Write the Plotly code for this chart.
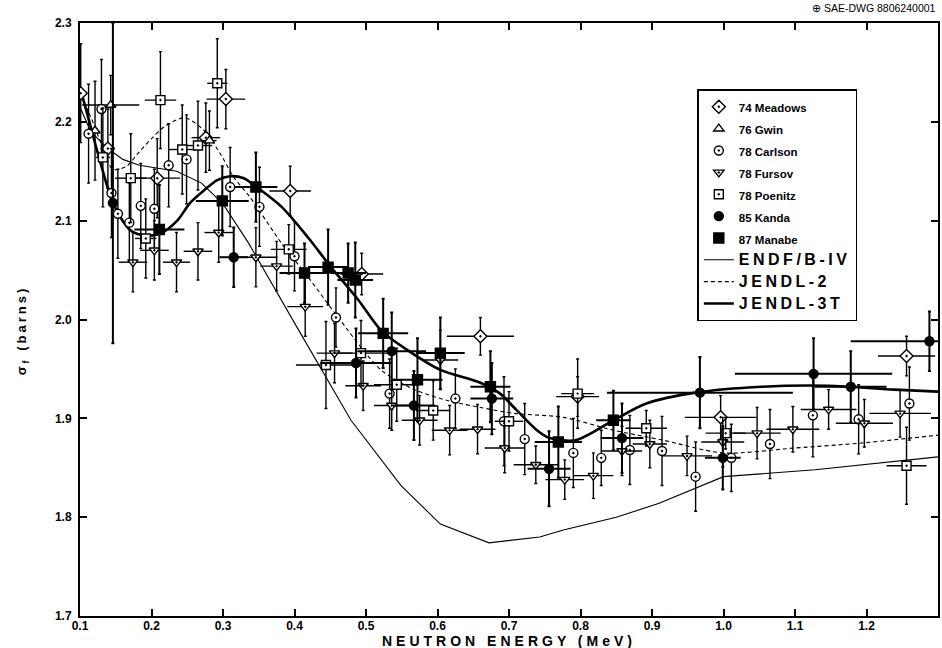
import plotly.graph_objects as go

# ---------------- data ----------------
x_ticks = [0.1, 0.2, 0.3, 0.4, 0.5, 0.6, 0.7, 0.8, 0.9, 1.0, 1.1, 1.2]
x_tick_labels = ["0.1", "0.2", "0.3", "0.4", "0.5", "0.6", "0.7", "0.8", "0.9", "1.0", "1.1", "1.2"]
y_ticks = [1.7, 1.8, 1.9, 2.0, 2.1, 2.2, 2.3]
y_tick_labels = ["1.7", "1.8", "1.9", "2.0", "2.1", "2.2", "2.3"]

endf_x = [0.100, 0.115, 0.139, 0.160, 0.183, 0.235, 0.270, 0.300, 0.336, 0.370, 0.406, 0.479,
          0.549, 0.604, 0.672, 0.743, 0.776, 0.850, 0.910, 1.000, 1.128, 1.300]
endf_y = [2.215, 2.190, 2.173, 2.162, 2.156, 2.150, 2.138, 2.117, 2.077, 2.034, 1.989, 1.898,
          1.832, 1.793, 1.774, 1.780, 1.787, 1.800, 1.814, 1.841, 1.848, 1.861]

jendl2_x = [0.100, 0.115, 0.128, 0.146, 0.165, 0.181, 0.200, 0.218, 0.246, 0.274, 0.296, 0.315,
            0.3375, 0.382, 0.419, 0.457, 0.521, 0.568, 0.614, 0.660, 0.707, 0.776, 0.846, 0.915,
            0.999, 1.100, 1.193, 1.300]
jendl2_y = [2.228, 2.205, 2.181, 2.152, 2.155, 2.168, 2.183, 2.195, 2.204, 2.191, 2.168, 2.144,
            2.124, 2.077, 2.043, 2.006, 1.949, 1.929, 1.918, 1.911, 1.905, 1.901, 1.888, 1.878,
            1.865, 1.870, 1.875, 1.883]

jendl3t_x = [0.100, 0.112, 0.125, 0.143, 0.157, 0.171, 0.190, 0.2125, 0.236, 0.254, 0.274, 0.292,
             0.310, 0.329, 0.347, 0.382, 0.419, 0.451, 0.489, 0.521, 0.558, 0.604, 0.660, 0.6875,
             0.711, 0.739, 0.757, 0.794, 0.846, 0.892, 0.961, 1.054, 1.146, 1.239, 1.300]
jendl3t_y = [2.235, 2.203, 2.168, 2.124, 2.103, 2.090, 2.085, 2.087, 2.100, 2.118, 2.131, 2.141,
             2.145, 2.143, 2.134, 2.114, 2.083, 2.053, 2.020, 1.989, 1.969, 1.949, 1.936, 1.925,
             1.908, 1.888, 1.880, 1.878, 1.898, 1.915, 1.926, 1.932, 1.933, 1.929, 1.927]

meadows_x = [0.101, 0.139, 0.208, 0.276, 0.304, 0.394, 0.494, 0.660, 0.796, 0.996, 1.256]
meadows_y = [2.229, 2.173, 2.143, 2.184, 2.223, 2.130, 2.046, 1.983, 1.922, 1.901, 1.963]
meadows_dy = [0.050, 0.040, 0.040, 0.035, 0.030, 0.025, 0.021, 0.019, 0.020, 0.022, 0.020]
meadows_dx = [0.004, 0.010, 0.032, 0.020, 0.027, 0.029, 0.030, 0.047, 0.030, 0.050, 0.040]

gwin_x = [0.121, 0.143, 0.281]
gwin_y = [2.191, 2.217, 2.181]
gwin_dy = [0.050, 0.030, 0.030]
gwin_dx = [0.004, 0.040, 0.010]

carlson_x = [0.112, 0.130, 0.144, 0.153, 0.169, 0.185, 0.204, 0.224, 0.249, 0.310, 0.351, 0.400,
             0.458, 0.533, 0.625, 0.693, 0.722, 0.790, 0.829, 0.869, 0.914, 0.961, 1.011, 1.065,
             1.125, 1.189, 1.260]
carlson_y = [2.188, 2.213, 2.128, 2.107, 2.098, 2.115, 2.112, 2.156, 2.162, 2.134, 2.114, 2.064,
             2.002, 1.925, 1.920, 1.897, 1.879, 1.865, 1.860, 1.868, 1.867, 1.841, 1.860, 1.874,
             1.903, 1.899, 1.915]
carlson_dy = [0.050, 0.050, 0.045, 0.045, 0.040, 0.043, 0.040, 0.042, 0.045, 0.040, 0.040, 0.035,
              0.030, 0.035, 0.030, 0.045, 0.036, 0.035, 0.028, 0.035, 0.035, 0.035, 0.034, 0.035,
              0.042, 0.035, 0.037]

fursov_x = [0.174, 0.204, 0.235, 0.265, 0.294, 0.346, 0.375, 0.415, 0.456, 0.496, 0.536, 0.575,
            0.604, 0.617, 0.656, 0.694, 0.7375, 0.778, 0.818, 0.858, 0.897, 0.949, 0.999, 1.047,
            1.097, 1.147, 1.197, 1.247]
fursov_y = [2.058, 2.070, 2.058, 2.069, 2.088, 2.063, 2.054, 2.013, 1.966, 1.933, 1.913, 1.898,
            1.959, 1.888, 1.889, 1.870, 1.853, 1.838, 1.842, 1.867, 1.874, 1.862, 1.876, 1.885,
            1.889, 1.909, 1.895, 1.905]
fursov_dy = [0.030, 0.030, 0.030, 0.029, 0.030, 0.030, 0.025, 0.030, 0.030, 0.025, 0.025, 0.025,
             0.030, 0.025, 0.025, 0.025, 0.019, 0.020, 0.023, 0.025, 0.024, 0.020, 0.025, 0.026,
             0.023, 0.020, 0.024, 0.024]
fursov_dx = [0.020, 0.020, 0.019, 0.020, 0.020, 0.030, 0.023, 0.025, 0.025, 0.025, 0.025, 0.025,
             0.025, 0.025, 0.025, 0.028, 0.031, 0.027, 0.028, 0.028, 0.024, 0.035, 0.030, 0.033,
             0.037, 0.039, 0.040, 0.043]

poenitz_x = [0.132, 0.171, 0.192, 0.2125, 0.243, 0.265, 0.292, 0.392, 0.444, 0.493, 0.543, 0.594,
             0.700, 0.796, 0.892, 1.003, 1.256]
poenitz_y = [2.164, 2.143, 2.082, 2.222, 2.172, 2.176, 2.239, 2.071, 1.954, 1.966, 1.934, 1.908,
             1.897, 1.925, 1.890, 1.885, 1.852]
poenitz_dy = [0.050, 0.045, 0.040, 0.049, 0.045, 0.045, 0.045, 0.025, 0.044, 0.033, 0.037, 0.030,
              0.030, 0.035, 0.018, 0.016, 0.039]
poenitz_dx = [0.010, 0.022, 0.015, 0.022, 0.020, 0.020, 0.014, 0.025, 0.042, 0.040, 0.032, 0.024,
              0.020, 0.023, 0.029, 0.028, 0.028]

kanda_x = [0.146, 0.315, 0.486, 0.536, 0.567, 0.676, 0.756, 0.858, 0.967, 0.999, 1.126, 1.178, 1.288]
kanda_y = [2.118, 2.063, 1.956, 1.968, 1.913, 1.920, 1.849, 1.880, 1.926, 1.860, 1.945, 1.932, 1.978]
kanda_dy_up = [0.182, 0.030, 0.035, 0.039, 0.035, 0.036, 0.038, 0.035, 0.036, 0.032, 0.036, 0.036, 0.030]
kanda_dy_down = [0.142, 0.030, 0.035, 0.039, 0.035, 0.036, 0.038, 0.035, 0.036, 0.032, 0.036, 0.036, 0.030]
kanda_dx = [0.000, 0.020, 0.050, 0.048, 0.030, 0.030, 0.030, 0.030, 0.130, 0.025, 0.110, 0.050, 0.110]

manabe_x = [0.211, 0.299, 0.346, 0.414, 0.447, 0.475, 0.485, 0.524, 0.572, 0.604, 0.674, 0.769, 0.846]
manabe_y = [2.091, 2.120, 2.134, 2.047, 2.053, 2.047, 2.040, 1.986, 1.939, 1.966, 1.932, 1.876, 1.898]
manabe_dy = [0.045, 0.035, 0.035, 0.030, 0.038, 0.030, 0.038, 0.035, 0.042, 0.036, 0.036, 0.036, 0.030]
manabe_dx = [0.035, 0.037, 0.030, 0.035, 0.028, 0.025, 0.025, 0.035, 0.035, 0.034, 0.028, 0.033, 0.024]

# ---------------- figure ----------------
FONT = "Liberation Sans"
fig = go.Figure()

def small(name):
    return '<span style="font-size:11.5px;font-weight:bold">' + name + '</span>'

def big(name):
    return '<span style="font-size:16px;font-weight:bold;letter-spacing:3.5px">' + name + '</span>'

# model curves
fig.add_trace(go.Scatter(x=endf_x, y=endf_y, mode="lines", name=big("ENDF/B-IV"),
                         line=dict(color="black", width=1.1), legendrank=8))
fig.add_trace(go.Scatter(x=jendl2_x, y=jendl2_y, mode="lines", name=big("JENDL-2"),
                         line=dict(color="black", width=1.1, dash="4px,3px", shape="spline", smoothing=0.8),
                         legendrank=9))
fig.add_trace(go.Scatter(x=jendl3t_x, y=jendl3t_y, mode="lines", name=big("JENDL-3T"),
                         line=dict(color="black", width=2.6, shape="spline", smoothing=0.8),
                         legendrank=10))

def pts(xs, ys, dy, dx, name, symbol, rank, color="white", size=9, dy_minus=None, thick=1.4):
    ey = dict(type="data", array=dy, color="black", thickness=thick, width=1.5, visible=True)
    if dy_minus is not None:
        ey["symmetric"] = False
        ey["arrayminus"] = dy_minus
    ex = None
    if dx is not None:
        ex = dict(type="data", array=dx, color="black", thickness=thick, width=0, visible=True)
    fig.add_trace(go.Scatter(
        x=xs, y=ys, mode="markers", name=small(name), legendrank=rank,
        marker=dict(symbol=symbol, size=size, color=color, line=dict(color="black", width=1.4)),
        error_y=ey, error_x=ex))

pts(meadows_x, meadows_y, meadows_dy, meadows_dx, "74 Meadows", "diamond-dot", 1, size=10)
pts(gwin_x, gwin_y, gwin_dy, gwin_dx, "76 Gwin", "triangle-up", 2)
pts(carlson_x, carlson_y, carlson_dy, None, "78 Carlson", "circle-dot", 3)
pts(fursov_x, fursov_y, fursov_dy, fursov_dx, "78 Fursov", "triangle-down-dot", 4)
pts(poenitz_x, poenitz_y, poenitz_dy, poenitz_dx, "78 Poenitz", "square-dot", 5)
pts(kanda_x, kanda_y, kanda_dy_up, kanda_dx, "85 Kanda", "circle", 6, color="black",
    dy_minus=kanda_dy_down, thick=2.0)
pts(manabe_x, manabe_y, manabe_dy, manabe_dx, "87 Manabe", "square", 7, color="black", size=10, thick=2.0)

axis_common = dict(showline=True, linecolor="black", linewidth=2, mirror="ticks",
                   ticks="inside", ticklen=7, tickwidth=1.5, tickcolor="black",
                   showgrid=False, zeroline=False,
                   tickfont=dict(family=FONT, size=12, color="black", weight="bold"))

fig.update_xaxes(range=[0.1, 1.3], tickvals=x_ticks, ticktext=x_tick_labels,
                 ticklabelstandoff=-2, **axis_common)
fig.update_yaxes(range=[1.7, 2.3], tickvals=y_ticks, ticktext=y_tick_labels,
                 ticklabelstandoff=4, **axis_common)

fig.update_layout(
    width=942, height=648,
    margin=dict(l=80, r=2, t=23, b=32),
    paper_bgcolor="white", plot_bgcolor="white",
    font=dict(family=FONT, color="black"),
    showlegend=True,
    legend=dict(x=0.7195, y=0.888, xanchor="left", yanchor="top",
                bgcolor="white", bordercolor="black", borderwidth=1.5,
                font=dict(family=FONT, size=14.5, color="black"),
                traceorder="normal", itemwidth=30),
    annotations=[
        dict(text='<span style="letter-spacing:4px">NEUTRON ENERGY (MeV)</span>',
             xref="paper", yref="paper", x=0.5, y=-0.0425, xanchor="center", yanchor="middle",
             showarrow=False, font=dict(family=FONT, size=14, color="black", weight="bold")),
        dict(text='<span style="letter-spacing:3px">σ<sub>f</sub> (barns)</span>',
             xref="paper", yref="paper", x=-0.0674, y=0.482, xanchor="center", yanchor="middle",
             textangle=-90, showarrow=False,
             font=dict(family=FONT, size=13, color="black", weight="bold")),
        dict(text="⊕ SAE-DWG 8806240001",
             xref="paper", yref="paper", x=1.0, y=1.0253, xanchor="right", yanchor="middle",
             showarrow=False, font=dict(family=FONT, size=10.5, color="black")),
    ],
)

fig.write_html("out.html", config={"displayModeBar": False},
               post_script="document.body.style.margin='0';")
